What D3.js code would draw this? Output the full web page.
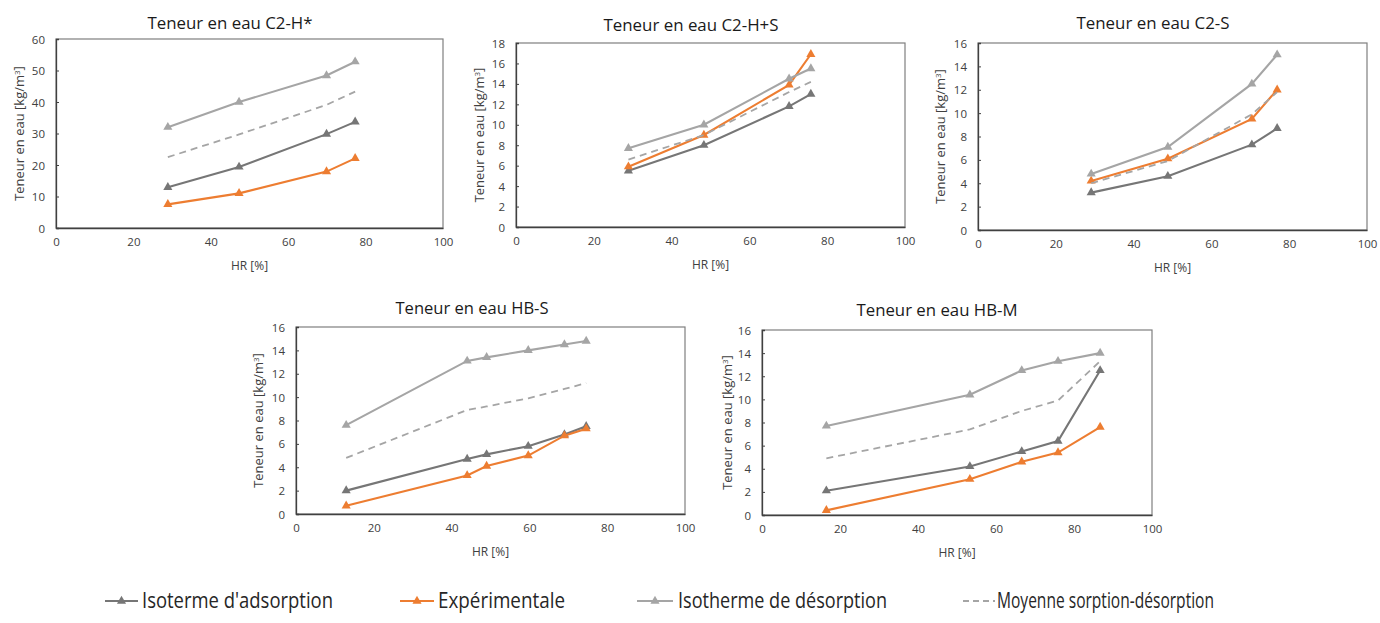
<!DOCTYPE html>
<html><head><meta charset="utf-8">
<script src="https://cdn.jsdelivr.net/npm/d3@7"></script>
<style>
html,body{margin:0;padding:0;background:#fff;}
svg{display:block;font-family:"Open Sans",sans-serif;}
</style></head>
<body>
<svg id="chart" width="1380" height="623"></svg>
<script>
// ---------- DATA ----------
const seriesNames = ["Isoterme d'adsorption","Expérimentale","Isotherme de désorption","Moyenne sorption-désorption"];
const panelTitles = ["Teneur en eau C2-H*","Teneur en eau C2-H+S","Teneur en eau C2-S","Teneur en eau HB-S","Teneur en eau HB-M"];
const xTicks = [0,20,40,60,80,100];
const yTicksC2H = [0,10,20,30,40,50,60];
const yTicksC2HS = [0,2,4,6,8,10,12,14,16,18];
const yTicks16 = [0,2,4,6,8,10,12,14,16];

// C2-H*
const hrC2H   = [28.9, 47.3, 69.9, 77.3];
const adsC2H  = [12.9, 19.4, 29.8, 33.7];
const expC2H  = [7.5, 11.0, 17.9, 22.1];
const desC2H  = [32.0, 40.0, 48.4, 52.8];
const moyC2H  = [22.5, 29.7, 39.1, 43.3];
// C2-H+S
const hrC2HS  = [28.9, 48.3, 70.2, 75.8];
const adsC2HS = [5.5, 8.0, 11.8, 13.0];
const expC2HS = [5.9, 9.0, 13.9, 16.9];
const desC2HS = [7.7, 10.0, 14.5, 15.5];
const moyC2HS = [6.6, 9.0, 13.2, 14.2];
// C2-S
const hrC2S   = [29.1, 48.8, 70.4, 76.9];
const adsC2S  = [3.2, 4.6, 7.3, 8.7];
const expC2S  = [4.2, 6.1, 9.5, 12.0];
const desC2S  = [4.8, 7.1, 12.5, 15.0];
const moyC2S  = [4.0, 5.9, 9.9, 11.8];
// HB-S
const hrHBS   = [12.9, 44.0, 49.0, 59.7, 69.0, 74.6];
const adsHBS  = [2.0, 4.7, 5.1, 5.8, 6.8, 7.5];
const expHBS  = [0.7, 3.3, 4.1, 5.0, 6.7, 7.3];
const desHBS  = [7.6, 13.1, 13.4, 14.0, 14.5, 14.8];
const moyHBS  = [4.8, 8.9, 9.2, 9.9, 10.7, 11.2];
// HB-M
const hrHBM   = [16.5, 53.3, 66.6, 75.9, 86.7];
const adsHBM  = [2.1, 4.2, 5.5, 6.4, 12.5];
const expHBM  = [0.4, 3.1, 4.6, 5.4, 7.6];
const desHBM  = [7.7, 10.4, 12.5, 13.3, 14.0];
const moyHBM  = [4.9, 7.4, 9.0, 9.9, 13.3];

// ---------- LAYOUT / STYLE ----------
const colors = ["#767676","#ED7D31","#A5A5A5","#A5A5A5"];
const panels = [
  {title:panelTitles[0], hr:hrC2H, s:[adsC2H,expC2H,desC2H,moyC2H], yMax:60, yTicks:yTicksC2H, l:56, r:443, t:39, b:228, tx:230, ty:23, tw:165, lx:19},
  {title:panelTitles[1], hr:hrC2HS, s:[adsC2HS,expC2HS,desC2HS,moyC2HS], yMax:18, yTicks:yTicksC2HS, l:516, r:905, t:43, b:227, tx:691, ty:25, tw:175, lx:479},
  {title:panelTitles[2], hr:hrC2S, s:[adsC2S,expC2S,desC2S,moyC2S], yMax:16, yTicks:yTicks16, l:978, r:1367, t:43, b:230, tx:1153, ty:23, tw:153, lx:940},
  {title:panelTitles[3], hr:hrHBS, s:[adsHBS,expHBS,desHBS,moyHBS], yMax:16, yTicks:yTicks16, l:296, r:685, t:327, b:514, tx:472, ty:308, tw:153, lx:258},
  {title:panelTitles[4], hr:hrHBM, s:[adsHBM,expHBM,desHBM,moyHBM], yMax:16, yTicks:yTicks16, l:762, r:1152, t:330, b:515, tx:937, ty:310, tw:161, lx:727}
];

const svg = d3.select("#chart");
const tri = d3.symbol().type(d3.symbolTriangle).size(36);

panels.forEach(p => {
  const x = d3.scaleLinear().domain([0,100]).range([p.l,p.r]);
  const y = d3.scaleLinear().domain([0,p.yMax]).range([p.b,p.t]);
  const g = svg.append("g");

  // plot box
  g.append("rect").attr("x",p.l).attr("y",p.t).attr("width",p.r-p.l).attr("height",p.b-p.t)
    .attr("fill","none").attr("stroke","#7f7f7f").attr("stroke-width",1.2);

  // axes
  const xa = g.append("g").attr("transform",`translate(0,${p.b})`)
    .call(d3.axisBottom(x).tickValues(xTicks).tickSize(0).tickPadding(10).tickFormat(d3.format("d")));
  const ya = g.append("g").attr("transform",`translate(${p.l},0)`)
    .call(d3.axisLeft(y).tickValues(p.yTicks).tickSize(-3).tickPadding(11).tickFormat(d3.format("d")));
  [xa,ya].forEach(a=>{
    a.select(".domain").attr("stroke","#404040").attr("stroke-width",1.3);
    a.selectAll(".tick line").attr("stroke","#404040");
    a.selectAll("text").attr("font-size",11.5).attr("fill","#404040").attr("font-family","Open Sans");
  });
  ya.selectAll("text").attr("dy","0.35em");

  // series
  p.s.forEach((vals,i) => {
    const pts = p.hr.map((h,k)=>[h,vals[k]]);
    const line = d3.line().x(d=>x(d[0])).y(d=>y(d[1]));
    g.append("path").attr("d",line(pts)).attr("fill","none")
      .attr("stroke",colors[i]).attr("stroke-width",i===3?1.8:2.1)
      .attr("stroke-dasharray",i===3?"7,5":null);
    if(i!==3){
      g.selectAll(null).data(pts).enter().append("path")
        .attr("d",tri).attr("transform",d=>`translate(${x(d[0])},${y(d[1])})`)
        .attr("fill",colors[i]);
    }
  });

  // titles
  g.append("text").attr("x",p.tx).attr("y",p.ty).attr("dy","0.35em").attr("text-anchor","middle")
    .attr("font-size",16).attr("fill","#1a1a1a")
    .attr("textLength",p.tw).attr("lengthAdjust","spacingAndGlyphs").text(p.title);
  g.append("text").attr("x",(p.l+p.r)/2).attr("y",p.b+38).attr("dy","0.35em").attr("text-anchor","middle")
    .attr("font-size",12).attr("fill","#404040").text("HR [%]");
  const yl = g.append("text").attr("transform",`translate(${p.lx},${(p.t+p.b)/2}) rotate(-90)`)
    .attr("dy","0.35em").attr("text-anchor","middle").attr("font-size",13).attr("fill","#404040");
  yl.append("tspan").text("Teneur en eau [kg/m");
  yl.append("tspan").attr("font-size",8).attr("dy","-0.5em").text("3");
  yl.append("tspan").attr("dy","0.3em").text("]");
});

// ---------- LEGEND ----------
const legendItems = [
  {lx0:105, lx1:138, tx:142, tw:191},
  {lx0:400, lx1:434, tx:438, tw:127},
  {lx0:637, lx1:673, tx:678, tw:209},
  {lx0:963, lx1:995, tx:997, tw:217}
];
const ly = 601;
const lg = svg.append("g");
legendItems.forEach((it,i)=>{
  lg.append("line").attr("x1",it.lx0).attr("x2",it.lx1).attr("y1",ly).attr("y2",ly)
    .attr("stroke",colors[i]).attr("stroke-width",2)
    .attr("stroke-dasharray",i===3?"6,4":null);
  if(i!==3){
    lg.append("path").attr("d",tri).attr("transform",`translate(${(it.lx0+it.lx1)/2},${ly})`).attr("fill",colors[i]);
  }
  lg.append("text").attr("x",it.tx).attr("y",ly).attr("dy","0.35em").attr("font-size",21)
    .attr("fill","#262626").attr("textLength",it.tw).attr("lengthAdjust","spacingAndGlyphs")
    .text(seriesNames[i]);
});
</script>
</body></html>
